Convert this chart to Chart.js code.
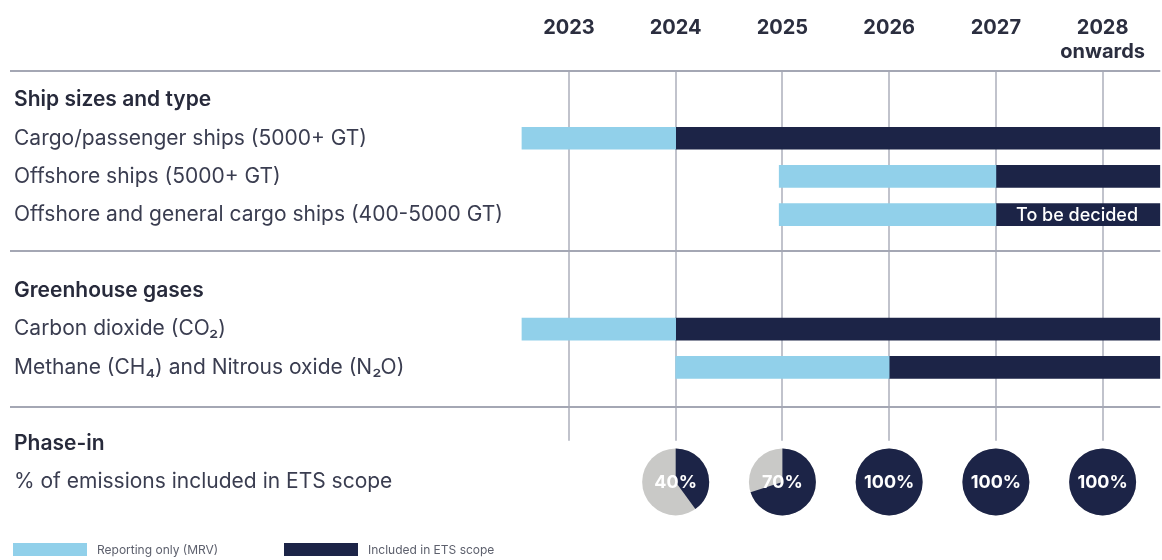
<!DOCTYPE html>
<html>
<head>
<meta charset="utf-8">
<title>EU ETS shipping timeline</title>
<script src="https://cdn.jsdelivr.net/npm/chart.js@4.4.1/dist/chart.umd.min.js"></script>
<style>
  html, body { margin: 0; padding: 0; background: #fff; }
  #wrap { width: 1162px; height: 560px; }
</style>
</head>
<body>
<div id="wrap"><canvas id="timeline" width="1162" height="560"></canvas></div>
<script>
// rows of the timeline, top to bottom (blank ones are the gaps between sections)
var rowLabels = [
    'Ship sizes and type',
    'Cargo/passenger ships (5000+ GT)',
    'Offshore ships (5000+ GT)',
    'Offshore and general cargo ships (400-5000 GT)',
    ' ',
    'Greenhouse gases',
    'Carbon dioxide (CO\u2082)',
    'Methane (CH\u2084) and Nitrous oxide (N\u2082O)',
    '  ',
    'Phase-in',
    '% of emissions included in ETS scope'
];
var headerRows = [0, 5, 9];

// year columns
var yearTicks = [2023, 2024, 2025, 2026, 2027, 2028];
var yearLabels = ['2023', '2024', '2025', '2026', '2027', ['2028', 'onwards']];

// [from, to] in years, one entry per row
var mrvSpans = [null, [2022.56, 2024], [2024.97, 2027], [2024.97, 2027], null,
    null, [2022.56, 2024], [2024, 2026], null, null, null];
var etsSpans = [null, [2024, 2028.54], [2027, 2028.54], [2027, 2028.54], null,
    null, [2024, 2028.54], [2026, 2028.54], null, null, null];
var barNotes = [null, null, null, 'To be decided', null, null, null, null, null, null, null];

// phase-in share of emissions
var phaseYears = [2024, 2025, 2026, 2027, 2028];
var phaseShare = [40, 70, 100, 100, 100];
var phaseRow = 10;

var FONT = 'Inter, "Noto Sans", sans-serif';
var NAVY = '#1c2447';
var SKY = '#91d0ea';

// vertical year lines and section separators
var frameLines = {
    id: 'frameLines',
    beforeDatasetsDraw: function(chart) {
        var c = chart.ctx, x = chart.scales.x, y = chart.scales.y, area = chart.chartArea;
        var top = area.top - 10;
        var bottom = y.getPixelForValue(9) - 3;
        c.save();
        c.lineWidth = 2;
        c.strokeStyle = '#c1c3cc';
        yearTicks.forEach(function(v) {
            var px = Math.round(x.getPixelForValue(v));
            c.beginPath();
            c.moveTo(px, top);
            c.lineTo(px, bottom);
            c.stroke();
        });
        c.strokeStyle = '#a4a7b4';
        [top, y.getPixelForValue(4) - 2, y.getPixelForValue(8) + 1].forEach(function(py) {
            py = Math.round(py);
            c.beginPath();
            c.moveTo(10, py);
            c.lineTo(area.right, py);
            c.stroke();
        });
        c.restore();
    }
};

// "To be decided", the phase-in pies and the legend strip
var extras = {
    id: 'extras',
    afterDatasetsDraw: function(chart) {
        var c = chart.ctx, x = chart.scales.x, y = chart.scales.y;
        var meta = chart.getDatasetMeta(1);
        c.save();
        c.textAlign = 'center';
        c.textBaseline = 'middle';
        barNotes.forEach(function(note, i) {
            if (!note) return;
            var bar = meta.data[i];
            c.fillStyle = '#fff';
            c.font = '500 18px ' + FONT;
            c.fillText(note, (bar.x + bar.base) / 2 - 1, bar.y + 1);
        });
        var cy = y.getPixelForValue(phaseRow);
        phaseYears.forEach(function(yr, i) {
            var cx = x.getPixelForValue(yr);
            var r = 33.5;
            var a0 = -Math.PI / 2;
            c.beginPath();
            c.arc(cx, cy, r, 0, Math.PI * 2);
            c.fillStyle = '#c9c9c7';
            c.fill();
            c.beginPath();
            c.moveTo(cx, cy);
            c.arc(cx, cy, r, a0, a0 + Math.PI * 2 * phaseShare[i] / 100);
            c.closePath();
            c.fillStyle = NAVY;
            c.fill();
            c.fillStyle = '#fff';
            c.font = 'bold 18px ' + FONT;
            c.fillText(phaseShare[i] + '%', cx, cy + 1);
        });
        c.restore();
    },
    afterDraw: function(chart) {
        var c = chart.ctx;
        var boxX = [13, 284];
        c.save();
        c.font = '12px ' + FONT;
        c.textBaseline = 'middle';
        c.textAlign = 'left';
        chart.data.datasets.forEach(function(ds, i) {
            c.fillStyle = ds.backgroundColor;
            c.fillRect(boxX[i], 543, 74, 13);
            c.fillStyle = '#5d606d';
            c.fillText(ds.label, boxX[i] + 84, 550);
        });
        c.restore();
    }
};

var ctx = document.getElementById('timeline').getContext('2d');
var chart = new Chart(ctx, {
    type: 'bar',
    data: {
        labels: rowLabels,
        datasets: [{
            label: 'Reporting only (MRV)',
            data: mrvSpans,
            backgroundColor: SKY,
            grouped: false,
            barThickness: 22,
            borderSkipped: false
        }, {
            label: 'Included in ETS scope',
            data: etsSpans,
            backgroundColor: NAVY,
            grouped: false,
            barThickness: 22,
            borderSkipped: false
        }]
    },
    options: {
        responsive: false,
        animation: false,
        indexAxis: 'y',
        layout: { padding: { top: 0, right: 0, bottom: 59, left: 0 } },
        scales: {
            x: {
                type: 'linear',
                position: 'top',
                min: 2017.67,
                max: 2028.54,
                grid: { display: false, drawTicks: false },
                border: { display: false },
                afterBuildTicks: function(s) {
                    s.ticks = yearTicks.map(function(v) { return { value: v }; });
                },
                afterFit: function(s) { s.height = 81; },
                ticks: {
                    autoSkip: false,
                    maxRotation: 0,
                    padding: 17,
                    crossAlign: 'far',
                    color: '#2b2e3f',
                    font: { family: FONT, size: 20, weight: 'bold', lineHeight: 1.2 },
                    callback: function(v) { return yearLabels[yearTicks.indexOf(v)]; }
                }
            },
            y: {
                type: 'category',
                grid: { display: false, drawTicks: false },
                border: { display: false },
                afterFit: function(s) { s.width = 0; },
                ticks: {
                    mirror: true,
                    padding: 14,
                    autoSkip: false,
                    color: function(c) {
                        return headerRows.indexOf(c.index) >= 0 ? '#272a3b' : '#3a3d50';
                    },
                    font: function(c) {
                        var head = headerRows.indexOf(c.index) >= 0;
                        return { family: FONT, size: 21, weight: head ? '600' : 'normal' };
                    }
                }
            }
        },
        plugins: {
            legend: { display: false },
            tooltip: { enabled: false }
        }
    },
    plugins: [frameLines, extras]
});
</script>
</body>
</html>
